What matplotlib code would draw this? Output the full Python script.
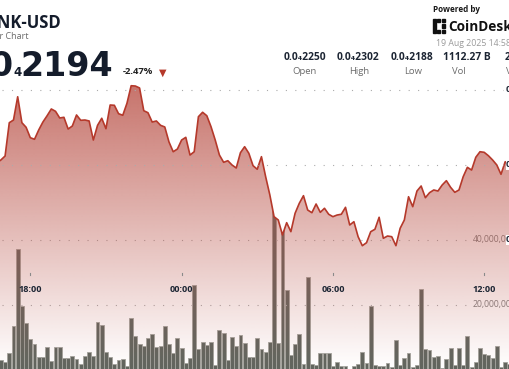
import matplotlib
matplotlib.use("Agg")
import matplotlib.pyplot as plt
import matplotlib.dates as mdates
from matplotlib.patches import Rectangle
import numpy as np
import pandas as pd

plt.rcParams['font.family'] = ['Open Sans', 'DejaVu Sans']

# 10-minute candles, price in 1e-8 USD (0.0₄2194 -> 2194), volume in millions
times = pd.date_range("2025-08-18 16:40", periods=124, freq="10min")
price = [2202.7, 2206.7, 2212, 2256.4, 2260, 2291, 2256.4, 2250.3, 2236.4, 2234.3,
         2246.7, 2257.3, 2265.7, 2274.7, 2271.6, 2262.7, 2263.6, 2248, 2252, 2266.7,
         2259.6, 2260, 2258.7, 2233.3, 2252.9, 2262.3, 2248.4, 2280, 2279.6, 2268.4,
         2266.3, 2282.3, 2305.7, 2305.3, 2302.7, 2272.4, 2269.7, 2257.3, 2258.7, 2252.9,
         2250.7, 2230.7, 2217.7, 2221.3, 2233.3, 2236.9, 2213.3, 2217.7, 2264.4, 2270.3,
         2265.7, 2251.1, 2233.3, 2213.3, 2203.6, 2205.7, 2200, 2196, 2216.4, 2224.4,
         2215.6, 2199.1, 2194.3, 2211.1, 2184.4, 2160, 2131.1, 2126.7, 2106.7, 2123.1,
         2111.1, 2135.6, 2148.9, 2159.1, 2140, 2136.4, 2148, 2136.9, 2142.3, 2134.3,
         2131.1, 2133.3, 2134.3, 2143.6, 2120, 2124.4, 2104.4, 2092.4, 2096.4, 2111.1,
         2114.3, 2130.3, 2102.3, 2105.3, 2104.4, 2092.4, 2115.6, 2126.7, 2157.7, 2144.4,
         2165.3, 2172, 2156.4, 2163.1, 2166.7, 2165.3, 2173.3, 2179.1, 2170.3, 2163.6,
         2166.7, 2184.4, 2196.9, 2193.3, 2210.3, 2217.7, 2216.9, 2212.4, 2206.7, 2200,
         2187.6, 2204.4, 2198.7, 2200]
volume = [7.7, 3.1, 2.6, 5.1, 13.5, 37.1, 19.7, 14.3, 9.6, 7.9,
          4.0, 4.1, 7.0, 2.9, 7.0, 7.0, 3.8, 3.6, 4.2, 3.4,
          1.7, 4.4, 5.6, 4.3, 14.9, 13.8, 5.4, 4.1, 1.8, 3.0,
          3.5, 1.3, 15.9, 10.5, 7.9, 7.4, 9.9, 11.0, 7.2, 7.5,
          13.5, 7.9, 5.1, 9.7, 6.7, 2.1, 3.8, 26.2, 6.4, 8.5,
          7.7, 8.7, 1.5, 12.3, 11.3, 3.1, 10.1, 7.4, 10.8, 8.4,
          4.0, 3.9, 9.7, 6.5, 5.5, 8.5, 55, 8.2, 50, 24.6,
          4.6, 8.0, 11.1, 1.8, 28.6, 1.8, 1.4, 5.1, 5.1, 5.1,
          1.2, 2.5, 1.3, 1.3, 0.3, 1.2, 1.7, 5.4, 2.2, 19.7,
          1.5, 1.2, 1.2, 2.1, 1.0, 9.2, 1.5, 3.6, 5.3, 1.0,
          1.5, 24.8, 6.4, 6.2, 4.1, 4.4, 0.5, 3.3, 6.7, 1.5,
          6.9, 1.5, 10.3, 0.8, 2.6, 6.9, 4.8, 4.5, 3.6, 7.5,
          1.0, 2.4, 1.7, 2.0]
tick_times = pd.to_datetime(["2025-08-18 18:00", "2025-08-19 00:00",
                             "2025-08-19 06:00", "2025-08-19 12:00"])
tick_labels = ["18:00", "00:00", "06:00", "12:00"]
price_grid = [2300, 2200, 2100]
price_grid_labels = ["0.0\u20842300", "0.0\u20842200", "0.0\u20842100"]
vol_grid = [40, 20]
vol_grid_labels = ["40,000,000", "20,000,000"]
stats_values = ["0.0\u20842250", "0.0\u20842302", "0.0\u20842188", "1112.27 B"]
stats_labels = ["Open", "High", "Low", "Vol"]

W, H = 510, 369
def fx(x): return x / W
def fy(y): return 1 - y / H

x = mdates.date2num(times)
x0 = mdates.date2num(pd.Timestamp("2025-08-18 16:47:54"))
x1 = mdates.date2num(pd.Timestamp("2025-08-19 13:01:24"))
p_lim = (1928, 2420)
v_lim = (0.3, 113.8)

fig = plt.figure(figsize=(W / 100, H / 100), dpi=100, facecolor="white")
axv = fig.add_axes([0, 0, 1, 1])
ax = fig.add_axes([0, 0, 1, 1])
for a in (axv, ax):
    a.set_axis_off()
    a.set_xlim(x0, x1)
ax.set_ylim(*p_lim); axv.set_ylim(*v_lim)

# area under the price line, shaded with a vertical gradient
poly = ax.fill_between(x, price, p_lim[0] - 50, facecolor="none", edgecolor="none")
clip = poly.get_paths()[0]
grad = np.zeros((256, 1, 4))
grad[..., 0], grad[..., 1], grad[..., 2] = 185 / 255, 80 / 255, 70 / 255
grad[:, 0, 3] = np.linspace(0.8, 0.0, 256)
img = ax.imshow(grad, extent=[x0, x1, p_lim[0], 2307], aspect="auto", origin="upper",
                interpolation="bilinear", zorder=1)
img.set_clip_path(clip, ax.transData)
ax.set_xlim(x0, x1); ax.set_ylim(*p_lim)
ax.plot(x, price, color="#b5392b", lw=1.2, solid_joinstyle="round", zorder=3)

bars = axv.bar(x, volume, width=9.2 / 1440, color="#62665f", edgecolor="#a3a49e", lw=0.6)
for b in bars:
    b.set_clip_path(clip, ax.transData)

dots = dict(color="#ababab", lw=0.8, ls=(0, (1, 7.5)), zorder=4)
for p in price_grid[:2]:
    ax.axhline(p, xmin=fx(2), xmax=fx(503), **dots)
for v in vol_grid:
    axv.axhline(v, xmin=fx(2), xmax=fx(467), **dots)

for t, lab in zip(tick_times, tick_labels):
    tx = mdates.date2num(t)
    ax.plot([tx, tx], [fy(272.5), fy(275)], transform=ax.get_xaxis_transform(),
            color="#8a8a8a", lw=0.8, zorder=4)
    ax.text(tx, fy(289), lab, transform=ax.get_xaxis_transform(), ha="center", va="center",
            fontsize=6.6, fontweight="bold", color="#1c2533", zorder=5)

for v, lab in zip(vol_grid, vol_grid_labels):
    axv.text(fx(473), v, lab, transform=axv.get_yaxis_transform(), ha="left", va="center",
             fontsize=6.2, color="#808080")
for p, lab in zip(price_grid, price_grid_labels):
    ax.text(fx(506), p, lab, transform=ax.get_yaxis_transform(), ha="left", va="center",
            fontsize=6.5, fontweight="bold", color="#1c2533", zorder=6,
            bbox=dict(facecolor="white", edgecolor="none", pad=0.3))

# header
navy = "#141c2b"
fig.text(fx(61), fy(23.5), "LINK-USD", ha="right", va="center", fontsize=12,
         fontweight="bold", color=navy)
fig.text(fx(28.5), fy(36.5), "Hour Chart", ha="right", va="center", fontsize=6.5, color="#6b6b6b")
fig.text(fx(113), fy(76), "2194", ha="right", va="baseline", fontsize=24,
         fontweight="bold", color=navy, family="DejaVu Sans")
fig.text(fx(21.5), fy(76), "4", ha="right", va="baseline", fontsize=8.5,
         fontweight="bold", color=navy, family="DejaVu Sans")
fig.text(fx(14), fy(76), "0.0", ha="right", va="baseline", fontsize=24,
         fontweight="bold", color=navy, family="DejaVu Sans")
fig.text(fx(123), fy(72), "-2.47%", ha="left", va="center", fontsize=6.8,
         fontweight="bold", color="#222222")
fig.text(fx(162.5), fy(72.5), "\u25bc", ha="center", va="center", fontsize=7,
         color="#b5392b", family="DejaVu Sans")

fig.text(fx(433), fy(9.5), "Powered by", ha="left", va="center", fontsize=5.9,
         fontweight="bold", color="#1a1a1a")
for (rx, ry, rw, rh) in [(433, 19, 3, 14), (437.5, 19, 3, 3), (442, 19, 3, 3),
                         (437.5, 30, 3, 3), (442, 30, 3, 3), (442, 24.5, 3, 3)]:
    fig.patches.append(Rectangle((fx(rx), fy(ry + rh)), rw / W, rh / H,
                                 transform=fig.transFigure, color="#111111"))
fig.text(fx(448), fy(27), "CoinDesk", ha="left", va="center", fontsize=9.8,
         fontweight="bold", color="#111111")
fig.text(fx(436), fy(43.5), "19 Aug 2025 14:58", ha="left", va="center", fontsize=6.3,
         color="#9a9a9a")

for cx, val in zip([304.5, 358, 412.5, 466.7], stats_values):
    fig.text(fx(cx), fy(58), val, ha="center", va="center", fontsize=7.4,
             fontweight="bold", color="#1c2533")
for cx, lab in zip([304.5, 359, 413.5, 459], stats_labels):
    fig.text(fx(cx), fy(71), lab, ha="center", va="center", fontsize=6.8, color="#6b6b6b")
fig.text(fx(505), fy(58), "24", ha="left", va="center", fontsize=7.4,
         fontweight="bold", color="#1c2533")
fig.text(fx(506), fy(71), "V", ha="left", va="center", fontsize=6.8, color="#6b6b6b")

fig.savefig("out.png", dpi=100, facecolor="white")
